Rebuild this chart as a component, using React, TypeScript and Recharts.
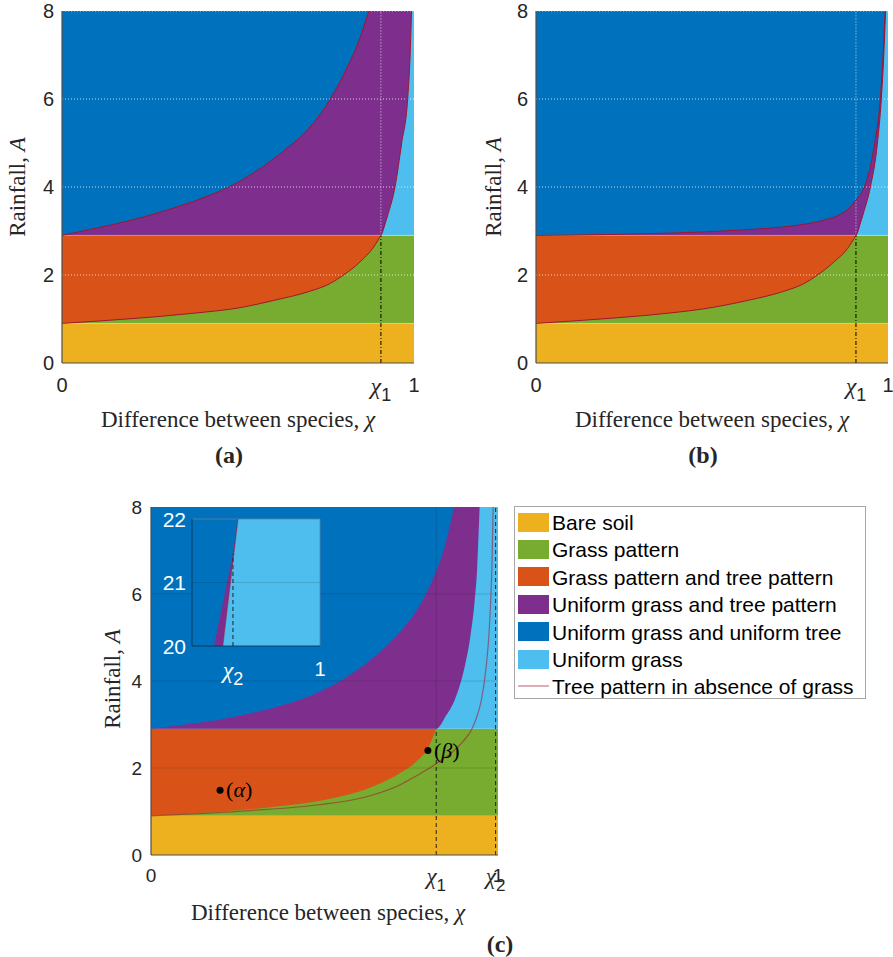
import React from 'react';
import { ComposedChart, Area, Line, XAxis, YAxis, ReferenceLine, Scatter } from 'recharts';

type Pt = [number, number];

// shared axis values
const CHI_DOMAIN: [number, number] = [0, 1];
const A_DOMAIN: [number, number] = [0, 8];
const A_TICKS = [0, 2, 4, 6, 8];
const GRID_A = [2, 4, 6, 8];
const BARE_SOIL_TOP = 0.9;
const GRASS_TOP = 2.9;
const A_TOP = 8;

// panel (a)
const CHI1_A = 0.906;
const lowerA: Pt[] = [
  [0, 0.9], [0.184, 1.0], [0.373, 1.13], [0.515, 1.27], [0.6, 1.42], [0.7, 1.62], [0.76, 1.8],
  [0.8, 2.0], [0.847, 2.3], [0.884, 2.62], [0.906, 2.9],
];
const upperA: Pt[] = [
  [0, 2.9], [0.1, 3.07], [0.2, 3.25], [0.3, 3.48], [0.4, 3.75], [0.487, 4.05], [0.55, 4.35],
  [0.63, 4.82], [0.7, 5.32], [0.761, 5.98], [0.8, 6.55], [0.84, 7.25], [0.872, 8],
];
const rightA: Pt[] = [
  [0.906, 2.9], [0.925, 3.35], [0.946, 4.0], [0.965, 5.0], [0.982, 6.0], [0.989, 7.0], [0.993, 8],
];

// panel (b)
const CHI1_B = 0.909;
const lowerB: Pt[] = [
  [0, 0.9], [0.184, 1.0], [0.373, 1.13], [0.476, 1.23], [0.6, 1.42], [0.7, 1.62], [0.76, 1.8],
  [0.8, 2.0], [0.847, 2.3], [0.885, 2.6], [0.909, 2.9],
];
const upperB: Pt[] = [
  [0, 2.9], [0.2, 2.92], [0.476, 2.98], [0.6, 3.03], [0.7, 3.09], [0.751, 3.14], [0.82, 3.25],
  [0.86, 3.36], [0.89, 3.52], [0.909, 3.7], [0.93, 3.95], [0.945, 4.3], [0.96, 4.9],
  [0.978, 6.0], [0.986, 7.0], [0.992, 8],
];
const rightB: Pt[] = [
  [0.909, 2.9], [0.93, 3.4], [0.95, 4.0], [0.97, 5.0], [0.981, 6.0], [0.988, 7.0], [0.993, 8],
];

// panel (c)
const CHI1_C = 0.822;
const CHI2_C = 0.9932;
const lowerC: Pt[] = [
  [0, 0.91], [0.1, 0.95], [0.2, 1.0], [0.285, 1.05], [0.38, 1.13], [0.477, 1.23], [0.55, 1.35],
  [0.621, 1.52], [0.67, 1.68], [0.717, 1.88], [0.765, 2.15], [0.8, 2.48], [0.822, 2.9],
];
const upperC: Pt[] = [
  [0, 2.9], [0.1, 3.0], [0.189, 3.1], [0.3, 3.28], [0.381, 3.45], [0.477, 3.72], [0.573, 4.14],
  [0.65, 4.6], [0.72, 5.15], [0.775, 5.75], [0.81, 6.3], [0.845, 7.05], [0.873, 8],
];
const rightC: Pt[] = [
  [0.822, 2.9], [0.85, 3.2], [0.875, 3.56], [0.89, 3.9], [0.904, 4.33], [0.92, 5.0],
  [0.933, 5.86], [0.94, 6.6], [0.947, 8],
];
const treeC: Pt[] = [
  [0, 0.9], [0.285, 1.02], [0.477, 1.15], [0.621, 1.34], [0.717, 1.61], [0.76, 1.8],
  [0.813, 2.05], [0.84, 2.2], [0.87, 2.38], [0.9, 2.62], [0.923, 2.87], [0.94, 3.2],
  [0.952, 3.56], [0.966, 4.33], [0.975, 5.2], [0.979, 5.86], [0.983, 6.8], [0.986, 8],
];
const markedChi = [0.199, 0.798];
const markedA = [1.49, 2.4];
const markedGreek = ['α', 'β'];

// inset of panel (c)
const INSET_CHI_DOMAIN: [number, number] = [0.99, 1];
const INSET_A_DOMAIN: [number, number] = [20, 22];
const INSET_A_TICKS = [20, 21, 22];
const INSET_CHI2_TOP = 21.45;
const insetPurpleEdge: Pt[] = [[0.99172, 20], [0.9932, 21.45], [0.99359, 22], [1, 22]];
const insetGrassEdge: Pt[] = [[0.9924, 20], [0.99359, 22], [1, 22]];
const insetTree: Pt[] = [[0.9924, 20], [0.99359, 22]];

const LEGEND_LABELS = [
  'Bare soil',
  'Grass pattern',
  'Grass pattern and tree pattern',
  'Uniform grass and tree pattern',
  'Uniform grass and uniform tree',
  'Uniform grass',
  'Tree pattern in absence of grass',
];

const COLORS = {
  bareSoil: '#EDB120',
  grass: '#77AC30',
  grassTree: '#D95319',
  purple: '#7E2F8E',
  blue: '#0072BD',
  lightBlue: '#4DBEEE',
  tree: '#A2142F',
};
const LEGEND_COLORS = [COLORS.bareSoil, COLORS.grass, COLORS.grassTree, COLORS.purple, COLORS.blue, COLORS.lightBlue];

const SANS = '"Liberation Sans", Arial, Helvetica, sans-serif';
const SERIF = '"Liberation Serif", "Times New Roman", serif';

const toRows = (pts: Pt[]) => pts.map(([chi, A]) => ({ chi, A }));
const band = (lo: number, hi: number, domain: [number, number] = CHI_DOMAIN) => [
  { chi: domain[0], lo, hi },
  { chi: domain[1], lo, hi },
];
const bandKey = (d: any) => [d.lo, d.hi];
const toTop = (top: number) => (d: any) => [d.A, top];
const fromBottom = (bottom: number) => (d: any) => [bottom, d.A];

type TickLabel = { main: string; sub?: string };

const makeXTick = (labels: TickLabel[], size: number, base: number, color = '#262626') => (props: any) => {
  const { x, y, index } = props;
  const lab = labels[index];
  if (!lab) return <g />;
  if (lab.sub) {
    return (
      <text x={x} y={y + base + 2} textAnchor="middle" fill={color}>
        <tspan fontFamily={SERIF} fontStyle="italic" fontSize={size + 4}>{lab.main}</tspan>
        <tspan fontFamily={SANS} fontSize={size - 2} dy={7}>{lab.sub}</tspan>
      </text>
    );
  }
  return (
    <text x={x} y={y + base} textAnchor="middle" fill={color} fontFamily={SANS} fontSize={size}>
      {lab.main}
    </text>
  );
};

const makeYTick = (size: number, gap: number, color = '#262626') => (props: any) => {
  const { x, y, payload } = props;
  return (
    <text x={x - gap} y={y} dy="0.36em" textAnchor="end" fill={color} fontFamily={SANS} fontSize={size}>
      {payload.value}
    </text>
  );
};

const MarkedPoint = (props: any) => {
  const { cx, cy, payload } = props;
  return (
    <g>
      <circle cx={cx} cy={cy} r={3.5} fill="#000" />
      <text x={cx + 6} y={cy} dy="0.33em" fontFamily={SERIF} fontSize={22} fill="#000">
        (<tspan fontStyle="italic">{payload.greek}</tspan>)
      </text>
    </g>
  );
};

interface PanelProps {
  left: number;
  top: number;
  width: number;
  height: number;
  margin: { top: number; right: number; bottom: number; left: number };
  yAxisWidth: number;
  lower: Pt[];
  upper: Pt[];
  rightEdge: Pt[];
  xTicks: number[];
  xTickLabels: TickLabel[];
  fontPx: number;
  tickBase: number;
  yGap: number;
  paperStyle?: boolean;
}

function PhasePanel(p: PanelProps) {
  const chi1 = p.rightEdge[0][0];
  const purpleRows = toRows([[0, GRASS_TOP], ...p.rightEdge]);
  const axisStroke = { stroke: '#4d4d4d', strokeWidth: 1.2 };
  return (
    <div style={{ position: 'absolute', left: p.left, top: p.top }}>
      <ComposedChart width={p.width} height={p.height} margin={p.margin}>
        <XAxis
          type="number"
          dataKey="chi"
          domain={CHI_DOMAIN}
          allowDataOverflow
          ticks={p.xTicks}
          interval={0}
          tickSize={0}
          tickMargin={0}
          height={40}
          tickLine={false}
          axisLine={axisStroke}
          tick={makeXTick(p.xTickLabels, p.fontPx, p.tickBase)}
        />
        <YAxis
          type="number"
          dataKey="A"
          domain={A_DOMAIN}
          allowDataOverflow
          ticks={A_TICKS}
          interval={0}
          width={p.yAxisWidth}
          tickSize={0}
          tickMargin={0}
          tickLine={false}
          axisLine={axisStroke}
          tick={makeYTick(p.fontPx, p.yGap)}
        />
        <Area data={band(0, BARE_SOIL_TOP)} dataKey={bandKey} type="linear" fill={COLORS.bareSoil} fillOpacity={1} stroke="none" isAnimationActive={false} />
        <Area data={band(BARE_SOIL_TOP, GRASS_TOP)} dataKey={bandKey} type="linear" fill={COLORS.grass} fillOpacity={1} stroke="none" isAnimationActive={false} />
        <Area data={band(GRASS_TOP, A_TOP)} dataKey={bandKey} type="linear" fill={COLORS.lightBlue} fillOpacity={1} stroke="none" isAnimationActive={false} />
        <Area data={toRows(p.lower)} dataKey={toTop(GRASS_TOP)} type="monotone" fill={COLORS.grassTree} fillOpacity={1} stroke="none" isAnimationActive={false} />
        <Area data={purpleRows} dataKey={toTop(A_TOP)} type="monotone" fill={COLORS.purple} fillOpacity={1} stroke="none" isAnimationActive={false} />
        <Area data={toRows(p.upper)} dataKey={toTop(A_TOP)} type="monotone" fill={COLORS.blue} fillOpacity={1} stroke="none" isAnimationActive={false} />

        {!p.paperStyle && [
          <ReferenceLine key="b09" y={BARE_SOIL_TOP} stroke="#ffffff" strokeOpacity={0.35} />,
          <ReferenceLine key="b29" y={GRASS_TOP} stroke="#ffffff" strokeOpacity={0.35} />,
          ...GRID_A.map((v) => (
            <ReferenceLine key={`g${v}`} y={v} stroke="#ffffff" strokeOpacity={0.75} strokeDasharray="1 2" />
          )),
          <ReferenceLine
            key="v1"
            segment={[{ x: chi1, y: GRASS_TOP }, { x: chi1, y: A_TOP }]}
            stroke="#ffffff"
            strokeOpacity={0.75}
            strokeDasharray="1 2"
          />,
          <ReferenceLine
            key="v1d"
            segment={[{ x: chi1, y: 0 }, { x: chi1, y: GRASS_TOP }]}
            stroke="#000"
            strokeDasharray="4 2 1 2"
          />,
          <Line key="l1" data={toRows(p.lower)} dataKey="A" type="monotone" stroke={COLORS.tree} strokeWidth={1} dot={false} isAnimationActive={false} />,
          <Line key="l2" data={toRows(p.upper)} dataKey="A" type="monotone" stroke={COLORS.tree} strokeWidth={1} dot={false} isAnimationActive={false} />,
          <Line key="l3" data={toRows(p.rightEdge)} dataKey="A" type="monotone" stroke={COLORS.tree} strokeWidth={1} dot={false} isAnimationActive={false} />,
        ]}

        {p.paperStyle && [
          ...GRID_A.slice(0, 3).map((v) => (
            <ReferenceLine key={`g${v}`} y={v} stroke="#000" strokeOpacity={0.13} />
          )),
          <ReferenceLine
            key="v1"
            segment={[{ x: CHI1_C, y: GRASS_TOP }, { x: CHI1_C, y: A_TOP }]}
            stroke="#000"
            strokeOpacity={0.13}
          />,
          <ReferenceLine
            key="v1d"
            segment={[{ x: CHI1_C, y: 0 }, { x: CHI1_C, y: GRASS_TOP }]}
            stroke="#222"
            strokeDasharray="4 3"
          />,
          <ReferenceLine
            key="v2d"
            segment={[{ x: CHI2_C, y: 0 }, { x: CHI2_C, y: A_TOP }]}
            stroke="#222"
            strokeDasharray="4 3"
          />,
          <Line key="tree" data={toRows(treeC)} dataKey="A" type="monotone" stroke={COLORS.tree} strokeOpacity={0.55} strokeWidth={1.2} dot={false} isAnimationActive={false} />,
          <Scatter
            key="pts"
            data={markedChi.map((chi, i) => ({ chi, A: markedA[i], greek: markedGreek[i] }))}
            dataKey="A"
            shape={MarkedPoint}
            isAnimationActive={false}
          />,
        ]}
      </ComposedChart>
    </div>
  );
}

function Inset() {
  const labels: TickLabel[] = [{ main: 'χ', sub: '2' }, { main: '1' }];
  return (
    <div style={{ position: 'absolute', left: 150, top: 498 }}>
      <ComposedChart width={180} height={192} margin={{ top: 21, right: 10, bottom: 4, left: 0 }}>
        <XAxis
          type="number"
          dataKey="chi"
          domain={INSET_CHI_DOMAIN}
          allowDataOverflow
          ticks={[CHI2_C, 1]}
          interval={0}
          tickSize={0}
          tickMargin={0}
          height={40}
          tickLine={false}
          axisLine={{ stroke: '#0b2a45', strokeOpacity: 0.8 }}
          tick={makeXTick(labels, 20, 30, '#ffffff')}
        />
        <YAxis
          type="number"
          dataKey="A"
          domain={INSET_A_DOMAIN}
          allowDataOverflow
          ticks={INSET_A_TICKS}
          interval={0}
          width={42}
          tickSize={0}
          tickMargin={0}
          tickLine={false}
          axisLine={{ stroke: '#0b2a45', strokeOpacity: 0.8 }}
          tick={makeYTick(21, 6, '#ffffff')}
        />
        <Area data={band(INSET_A_DOMAIN[0], INSET_A_DOMAIN[1], INSET_CHI_DOMAIN)} dataKey={bandKey} type="linear" fill={COLORS.blue} fillOpacity={1} stroke="none" isAnimationActive={false} />
        <Area data={toRows(insetPurpleEdge)} dataKey={fromBottom(INSET_A_DOMAIN[0])} type="linear" fill={COLORS.purple} fillOpacity={1} stroke="none" isAnimationActive={false} />
        <Area data={toRows(insetGrassEdge)} dataKey={fromBottom(INSET_A_DOMAIN[0])} type="linear" fill={COLORS.lightBlue} fillOpacity={1} stroke="none" isAnimationActive={false} />
        <ReferenceLine y={21} stroke="#000" strokeOpacity={0.12} />
        <ReferenceLine y={22} stroke="#5a7f9e" strokeOpacity={0.8} />
        <ReferenceLine x={1} stroke="#5a7f9e" strokeOpacity={0.8} />
        <ReferenceLine
          segment={[{ x: CHI2_C, y: INSET_A_DOMAIN[0] }, { x: CHI2_C, y: INSET_CHI2_TOP }]}
          stroke="#222"
          strokeDasharray="4 3"
        />
        <Line data={toRows(insetTree)} dataKey="A" type="linear" stroke={COLORS.tree} strokeOpacity={0.5} strokeWidth={1.2} dot={false} isAnimationActive={false} />
      </ComposedChart>
    </div>
  );
}

const Txt = ({ x, y, size = 23, bold = false, rotate = false, children }: any) => (
  <div
    style={{
      position: 'absolute',
      left: x,
      top: y,
      transform: `translate(-50%, -50%)${rotate ? ' rotate(-90deg)' : ''}`,
      fontFamily: SERIF,
      fontSize: size,
      fontWeight: bold ? 700 : 400,
      color: '#262626',
      whiteSpace: 'nowrap',
      lineHeight: 1,
    }}
  >
    {children}
  </div>
);

const XTitle = () => (
  <>
    Difference between species, <i>χ</i>
  </>
);
const YTitle = () => (
  <>
    Rainfall, <i>A</i>
  </>
);

function Legend() {
  return (
    <div
      style={{
        position: 'absolute',
        left: 514,
        top: 506,
        width: 352,
        height: 193,
        boxSizing: 'border-box',
        border: '1px solid #a6a6a6',
        background: '#fff',
      }}
    >
      {LEGEND_LABELS.map((label, i) => {
        const cy = 15 + 27.4 * i;
        const color = LEGEND_COLORS[i];
        return (
          <div key={label}>
            {color ? (
              <div style={{ position: 'absolute', left: 3, top: cy - 9.5, width: 31, height: 19, background: color }} />
            ) : (
              <div style={{ position: 'absolute', left: 3, top: cy - 1, width: 31, height: 2, background: COLORS.tree, opacity: 0.35 }} />
            )}
            <div
              style={{
                position: 'absolute',
                left: 37,
                top: cy,
                transform: 'translateY(-50%)',
                fontFamily: SANS,
                fontSize: 21,
                lineHeight: 1,
                color: '#000',
                whiteSpace: 'nowrap',
              }}
            >
              {label}
            </div>
          </div>
        );
      })}
    </div>
  );
}

export default function App() {
  const labelsA: TickLabel[] = [{ main: '0' }, { main: 'χ', sub: '1' }, { main: '1' }];
  const labelsC: TickLabel[] = [{ main: '0' }, { main: 'χ', sub: '1' }, { main: 'χ', sub: '2' }, { main: '1' }];
  return (
    <div style={{ position: 'absolute', left: 0, top: 0, width: 893, height: 957, background: '#fff', overflow: 'hidden' }}>
      <PhasePanel
        left={0}
        top={0}
        width={440}
        height={410}
        margin={{ top: 11, right: 26, bottom: 7, left: 0 }}
        yAxisWidth={62}
        lower={lowerA}
        upper={upperA}
        rightEdge={rightA}
        xTicks={[0, CHI1_A, 1]}
        xTickLabels={labelsA}
        fontPx={20}
        tickBase={29}
        yGap={8}
      />
      <PhasePanel
        left={460}
        top={0}
        width={433}
        height={410}
        margin={{ top: 11, right: 5, bottom: 7, left: 0 }}
        yAxisWidth={76}
        lower={lowerB}
        upper={upperB}
        rightEdge={rightB}
        xTicks={[0, CHI1_B, 1]}
        xTickLabels={labelsA}
        fontPx={20}
        tickBase={29}
        yGap={8}
      />
      <PhasePanel
        left={90}
        top={490}
        width={420}
        height={410}
        margin={{ top: 17, right: 12, bottom: 5, left: 0 }}
        yAxisWidth={61}
        lower={lowerC}
        upper={upperC}
        rightEdge={rightC}
        xTicks={[0, CHI1_C, CHI2_C, 1]}
        xTickLabels={labelsC}
        fontPx={19}
        tickBase={27}
        yGap={9}
        paperStyle
      />
      <Inset />
      <Legend />

      <Txt x={238} y={419}><XTitle /></Txt>
      <Txt x={17} y={187} rotate><YTitle /></Txt>
      <Txt x={229} y={455} size={24} bold>(a)</Txt>

      <Txt x={712} y={419}><XTitle /></Txt>
      <Txt x={493} y={187} rotate><YTitle /></Txt>
      <Txt x={703} y={455} size={24} bold>(b)</Txt>

      <Txt x={328} y={912}><XTitle /></Txt>
      <Txt x={112} y={679} rotate><YTitle /></Txt>
      <Txt x={500} y={944} size={24} bold>(c)</Txt>
    </div>
  );
}
